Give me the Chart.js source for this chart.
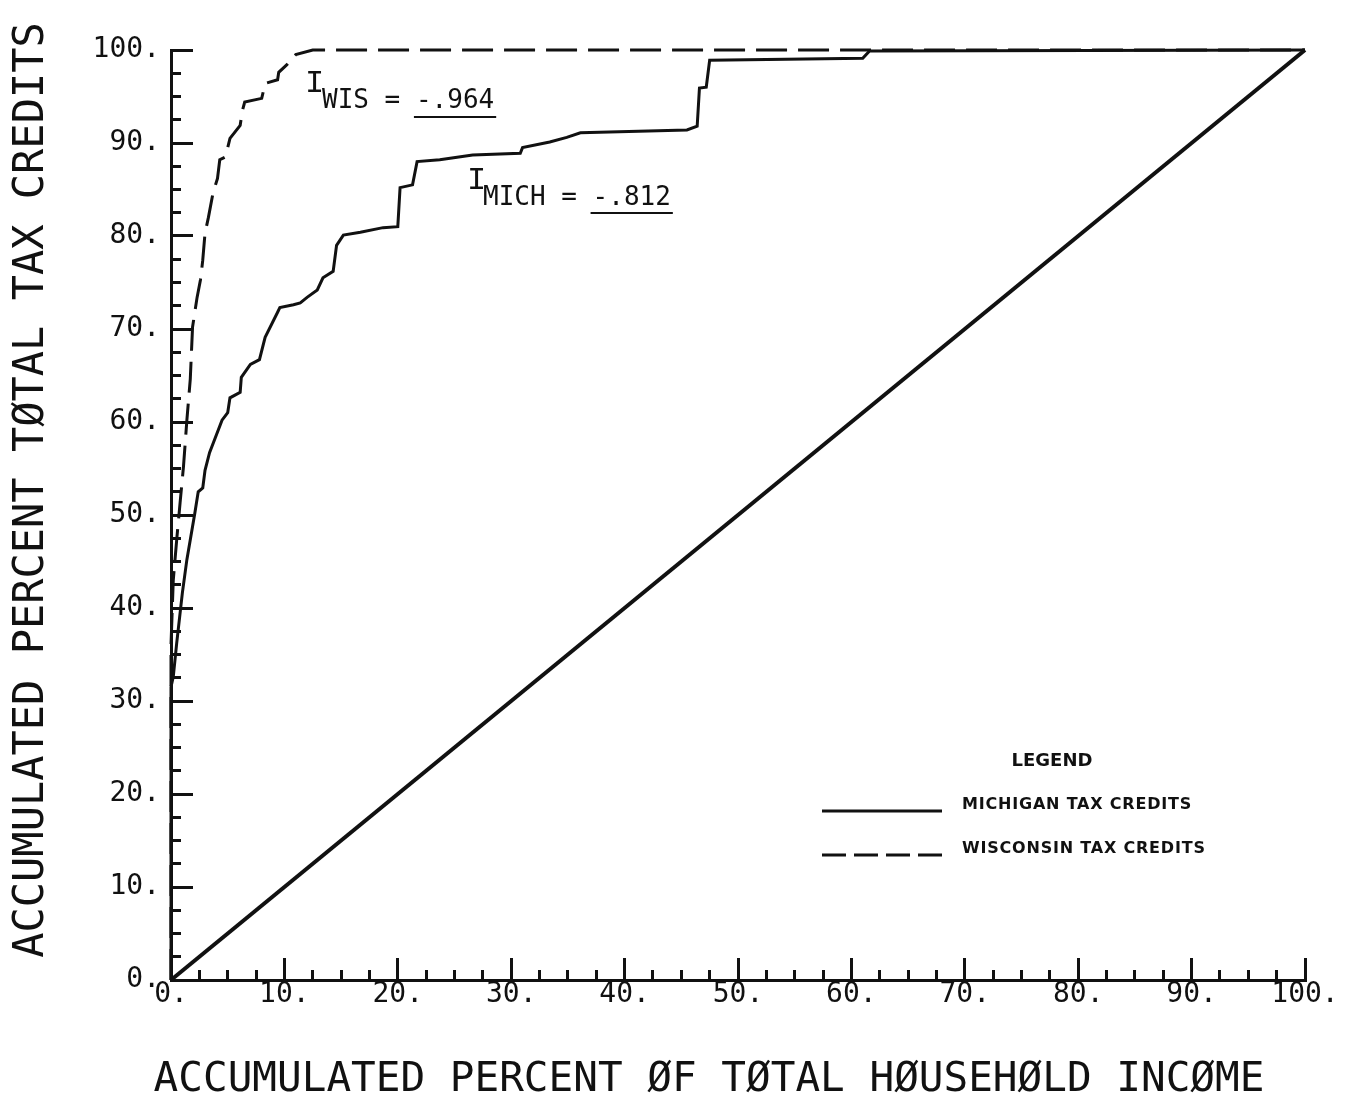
<!DOCTYPE html>
<html>
<head>
<meta charset="utf-8">
<script src="https://cdn.jsdelivr.net/npm/chart.js@4.4.1/dist/chart.umd.min.js"></script>
<style>
  html, body { margin: 0; padding: 0; background: #fff; }
</style>
</head>
<body>
<canvas id="lorenzChart" width="1347" height="1098"></canvas>
<script>
// accumulated percent of income (x) vs accumulated percent of credits (y)
const michiganIncome = [0, 0, 0.2, 0.5, 1.0, 1.4, 2.1, 2.4, 2.8, 3.0, 3.4, 4.5, 5.0, 5.2, 6.1, 6.2, 7.0, 7.8, 8.3, 9.4, 9.6, 10.8, 11.4, 12.0, 12.9, 13.4, 14.3, 14.6, 15.2, 16.7, 18.7, 20.0, 20.2, 21.3, 21.7, 23.7, 26.6, 30.8, 31.0, 33.4, 34.9, 36.1, 45.5, 46.4, 46.6, 47.2, 47.5, 61.0, 61.6, 100];
const michiganCredits = [0, 31.5, 32.6, 36.2, 41.6, 45.2, 50.2, 52.5, 52.9, 54.8, 56.7, 60.2, 61.0, 62.6, 63.2, 64.8, 66.2, 66.7, 69.1, 71.8, 72.3, 72.6, 72.8, 73.4, 74.2, 75.5, 76.2, 79.0, 80.1, 80.4, 80.9, 81.0, 85.2, 85.5, 88.0, 88.2, 88.7, 88.9, 89.5, 90.1, 90.6, 91.1, 91.4, 91.8, 95.9, 96.0, 98.9, 99.1, 99.9, 100];

const wisconsinIncome = [0, 0, 0.2, 0.5, 0.8, 1.1, 1.4, 1.7, 1.8, 1.9, 2.3, 2.6, 2.8, 3.0, 3.3, 3.7, 4.1, 4.3, 4.8, 5.2, 6.1, 6.3, 6.5, 8.0, 8.3, 9.4, 9.5, 10.2, 11.0, 12.5, 100];
const wisconsinCredits = [0, 36, 43, 47.3, 51.3, 55.2, 60.2, 64.6, 67.4, 70.2, 73.4, 75.3, 77.4, 80.3, 82.0, 84.6, 86.2, 88.2, 88.5, 90.5, 91.9, 93.5, 94.4, 94.8, 96.4, 96.8, 97.6, 98.4, 99.5, 100, 100];

const equalityIncome = [0, 100];
const equalityCredits = [0, 100];

const axisMin = 0;
const axisMax = 100;
const majorStep = 10;
const minorStep = 2.5;

const indexStates = ["WIS", "MICH"];
const indexValues = ["-.964", "-.812"];

const xTitle = "ACCUMULATED PERCENT ØF TØTAL HØUSEHØLD INCØME";
const yTitle = "ACCUMULATED PERCENT TØTAL TAX CREDITS";

const ink = "#111";
const monoFont = "DejaVu Sans Mono";

const toPoints = (xs, ys) => xs.map((x, i) => ({ x: x, y: ys[i] }));

// legend, index labels and axis titles
const plotText = {
  id: "plotText",
  afterDraw(chart) {
    const ctx = chart.ctx;
    ctx.save();
    ctx.fillStyle = ink;
    ctx.strokeStyle = ink;

    // axis titles
    ctx.font = "41px '" + monoFont + "'";
    ctx.textAlign = "center";
    ctx.textBaseline = "middle";
    ctx.fillText(xTitle, 709, 1080);
    ctx.save();
    ctx.translate(32, 490);
    ctx.rotate(-Math.PI / 2);
    ctx.font = "42px '" + monoFont + "'";
    ctx.fillText(yTitle, 0, 0);
    ctx.restore();

    // index labels
    const spots = [
      { ix: 308, x: 322, y: 108, lineY: 117 },
      { ix: 470, x: 483, y: 205, lineY: 213 },
    ];
    ctx.textAlign = "left";
    ctx.textBaseline = "alphabetic";
    spots.forEach((s, i) => {
      ctx.font = "32px 'Liberation Mono'";
      ctx.fillText("I", s.ix - 3, s.y - 16);
      ctx.font = "26px '" + monoFont + "'";
      const head = indexStates[i] + " = ";
      ctx.fillText(head + indexValues[i], s.x, s.y);
      const x0 = s.x + ctx.measureText(head).width;
      const x1 = x0 + ctx.measureText(indexValues[i]).width;
      ctx.lineWidth = 2;
      ctx.beginPath();
      ctx.moveTo(x0 - 2, s.lineY);
      ctx.lineTo(x1 + 2, s.lineY);
      ctx.stroke();
    });

    // legend
    ctx.font = "bold 18px 'DejaVu Sans'";
    ctx.textAlign = "center";
    ctx.textBaseline = "middle";
    ctx.fillText("LEGEND", 1052, 761);

    const rows = [
      { ds: chart.data.datasets[0], y: 811, dash: [] },
      { ds: chart.data.datasets[1], y: 855, dash: [24, 8] },
    ];
    ctx.font = "bold 16px 'DejaVu Sans'";
    ctx.letterSpacing = "0.8px";
    ctx.textAlign = "left";
    rows.forEach((r) => {
      ctx.lineWidth = 3;
      ctx.setLineDash(r.dash);
      ctx.beginPath();
      ctx.moveTo(822, r.y);
      ctx.lineTo(942, r.y);
      ctx.stroke();
      ctx.setLineDash([]);
      ctx.fillText(r.ds.label, 962, r.y - 6);
    });
    ctx.restore();
  },
};

const majorGrid = {
  drawOnChartArea: false,
  drawTicks: true,
  tickLength: -22,
  tickWidth: 3,
  tickColor: ink,
};
const minorGrid = {
  drawOnChartArea: false,
  drawTicks: true,
  tickLength: -10,
  tickWidth: 3,
  tickColor: ink,
};
const tickFont = { family: monoFont, size: 28 };

new Chart(document.getElementById("lorenzChart"), {
  type: "scatter",
  data: {
    datasets: [
      {
        label: "MICHIGAN TAX CREDITS",
        data: toPoints(michiganIncome, michiganCredits),
        showLine: true,
        borderColor: ink,
        borderWidth: 3,
        pointRadius: 0,
        clip: false,
      },
      {
        label: "WISCONSIN TAX CREDITS",
        data: toPoints(wisconsinIncome, wisconsinCredits),
        showLine: true,
        borderColor: ink,
        borderWidth: 3,
        borderDash: [31, 11],
        pointRadius: 0,
        clip: false,
      },
      {
        label: "EQUALITY",
        data: toPoints(equalityIncome, equalityCredits),
        showLine: true,
        borderColor: ink,
        borderWidth: 4,
        pointRadius: 0,
        clip: false,
      },
    ],
  },
  options: {
    responsive: false,
    animation: false,
    layout: { padding: { left: 0, top: 50, right: 42, bottom: 0 } },
    plugins: {
      legend: { display: false },
      tooltip: { enabled: false },
    },
    scales: {
      x: {
        type: "linear",
        axis: "x",
        position: "bottom",
        weight: 1,
        min: axisMin,
        max: axisMax,
        ticks: {
          stepSize: majorStep,
          padding: 20,
          color: ink,
          font: tickFont,
          maxRotation: 0,
          autoSkip: false,
          callback: (v) => v + ".",
        },
        grid: majorGrid,
        border: { display: true, width: 3, color: ink },
        afterFit: (s) => {
          s.height = 118;
          s.paddingLeft = 0;
          s.paddingRight = 0;
        },
      },
      xMinor: {
        type: "linear",
        axis: "x",
        position: "bottom",
        weight: 0,
        min: axisMin,
        max: axisMax,
        ticks: { stepSize: minorStep, display: false },
        grid: minorGrid,
        border: { display: false },
        afterFit: (s) => {
          s.height = 0;
          s.paddingLeft = 0;
          s.paddingRight = 0;
        },
      },
      y: {
        type: "linear",
        axis: "y",
        position: "left",
        weight: 1,
        min: axisMin,
        max: axisMax,
        ticks: {
          stepSize: majorStep,
          padding: 33,
          color: ink,
          font: tickFont,
          autoSkip: false,
          callback: (v) => v + ".",
        },
        grid: majorGrid,
        border: { display: true, width: 3, color: ink },
        afterFit: (s) => {
          s.width = 171;
          s.paddingTop = 0;
          s.paddingBottom = 0;
        },
      },
      yMinor: {
        type: "linear",
        axis: "y",
        position: "left",
        weight: 0,
        min: axisMin,
        max: axisMax,
        ticks: { stepSize: minorStep, display: false },
        grid: minorGrid,
        border: { display: false },
        afterFit: (s) => {
          s.width = 0;
          s.paddingTop = 0;
          s.paddingBottom = 0;
        },
      },
    },
  },
  plugins: [plotText],
});
</script>
</body>
</html>
